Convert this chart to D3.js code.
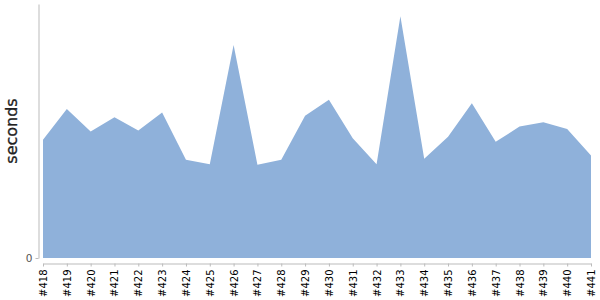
<!DOCTYPE html>
<html>
<head>
<meta charset="utf-8">
<script src="https://cdn.jsdelivr.net/npm/d3@7"></script>
<style>
  body { margin: 0; background: #fff; }
  text { font-family: "DejaVu Sans", sans-serif; }
</style>
</head>
<body>
<div id="chart"></div>
<script>
// build labels and durations (seconds)
const builds = ['#418','#419','#420','#421','#422','#423','#424','#425','#426','#427','#428','#429',
                '#430','#431','#432','#433','#434','#435','#436','#437','#438','#439','#440','#441']
const seconds = [242, 305, 259, 288, 261, 298, 201, 192, 436, 191, 201, 291,
                 324, 245, 192, 495, 203, 248, 317, 238, 269, 278, 264, 210]
const yTicks = [0]
const yMax = 520

const WIDTH = 600, HEIGHT = 300

const data = builds.map((b, i) => ({build: b, value: seconds[i]}))

const svg = d3.select('#chart')
  .append('svg')
    .attr('width', WIDTH)
    .attr('height', HEIGHT)

const x = d3.scalePoint()
  .domain(builds)
  .range([43, 591])

const y = d3.scaleLinear()
  .domain([0, yMax])
  .range([258, 4])

// area
const area = d3.area()
  .x(d => x(d.build))
  .y0(y(0))
  .y1(d => y(d.value))

svg.append('path')
  .datum(data)
  .attr('fill', '#8fb1da')
  .attr('d', area)

// x axis
const xAxis = svg.append('g')
  .attr('transform', 'translate(0, 263.5)')
  .call(d3.axisBottom(x).tickSize(3).tickSizeOuter(0))
xAxis.select('.domain').attr('stroke', '#bbb')
xAxis.selectAll('.tick line').attr('stroke', '#bbb')
xAxis.selectAll('.tick text')
  .attr('font-size', 10)
  .attr('font-family', '"DejaVu Sans", sans-serif')
  .attr('fill', '#000')
  .attr('text-anchor', 'end')
  .attr('transform', 'rotate(-90)')
  .attr('x', -6)
  .attr('y', 0)
  .attr('dy', '0.35em')

// y axis
const yAxis = svg.append('g')
  .attr('transform', 'translate(38.5, 0)')
  .call(d3.axisLeft(y).tickValues(yTicks).tickSize(3).tickSizeOuter(0))
yAxis.select('.domain').attr('stroke', '#bbb')
yAxis.selectAll('.tick line').attr('stroke', '#bbb')
yAxis.selectAll('.tick text')
  .attr('font-size', 10.5)
  .attr('font-family', '"DejaVu Sans", sans-serif')
  .attr('fill', '#555')
  .attr('x', -6)

// y label
svg.append('text')
  .attr('transform', 'translate(17, 131) rotate(-90)')
  .attr('text-anchor', 'middle')
  .attr('font-size', 16)
  .attr('fill', '#222')
  .attr('stroke', '#222')
  .attr('stroke-width', 0.3)
  .text('seconds')
</script>
</body>
</html>
